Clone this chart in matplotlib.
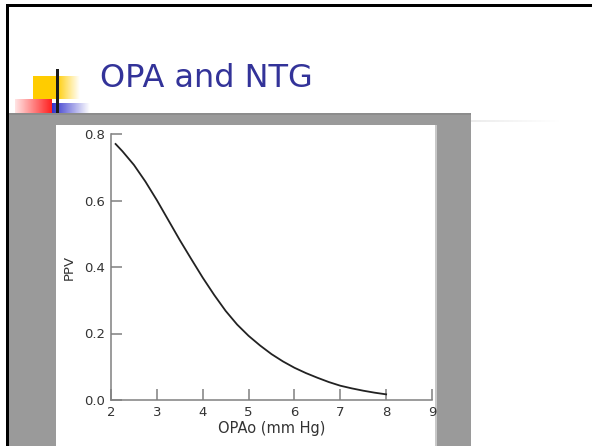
import numpy as np
import matplotlib
matplotlib.use("Agg")
import matplotlib.pyplot as plt
from matplotlib.patches import Rectangle

# ---- data ----
opa_x = [2.1, 2.25, 2.5, 2.75, 3.0, 3.25, 3.5, 3.75, 4.0, 4.25, 4.5, 4.75,
         5.0, 5.25, 5.5, 5.75, 6.0, 6.25, 6.5, 6.75, 7.0, 7.25, 7.5, 7.75, 8.0]
ppv_y = [0.77, 0.748, 0.707, 0.657, 0.601, 0.541, 0.481, 0.424, 0.368, 0.316,
         0.268, 0.227, 0.193, 0.164, 0.138, 0.116, 0.097, 0.081, 0.067, 0.054,
         0.043, 0.035, 0.028, 0.022, 0.017]
x_ticks = [2, 3, 4, 5, 6, 7, 8, 9]
y_ticks = [0.0, 0.2, 0.4, 0.6, 0.8]
y_ticklabels = ["0.0", "0.2", "0.4", "0.6", "0.8"]
title_text = "OPA and NTG"
x_label = "OPAo (mm Hg)"
y_label = "PPV"

W, H = 592, 446
fig = plt.figure(figsize=(W / 100, H / 100), dpi=100)
fig.patch.set_facecolor("white")

# background axes in pixel coords
bg = fig.add_axes([0, 0, 1, 1])
bg.set_xlim(0, W)
bg.set_ylim(H, 0)
bg.axis("off")

def rect(x0, y0, x1, y1, color, z=1):
    bg.add_patch(Rectangle((x0, y0), x1 - x0, y1 - y0, facecolor=color,
                           edgecolor="none", zorder=z))

def grad(x0, y0, x1, y1, c_left, c_right, z=2):
    c_left = np.array(matplotlib.colors.to_rgb(c_left))
    c_right = np.array(matplotlib.colors.to_rgb(c_right))
    t = np.linspace(0, 1, 64)[None, :, None]
    img = c_left * (1 - t) + c_right * t
    bg.imshow(img, extent=(x0, x1, y1, y0), aspect="auto", zorder=z,
              interpolation="bilinear")

# slide border (top and left)
rect(6, 4, W, 7, "black", 5)
rect(6, 4, 9, H, "black", 5)

# gray box and white panel
rect(9, 113, 471, H, "#9a9a9a", 1)
rect(9, 113, 471, 115, "#8c8c8c", 1)
rect(56, 125, 436, H, "white", 2)
rect(435, 125, 437, H, "#c8c8c8", 2)
# faint line to right
grad(471, 120, 560, 122, "#ececec", "#ffffff", 1)

# decorations
rect(33, 76, 56, 99, "#ffcc00", 2)
grad(56, 76, 80, 99, "#ffcc00", "#ffffff", 2)
grad(15, 99, 52, 113, "#ffe4e4", "#ff2020", 3)
grad(52, 103, 90, 113, "#3333cc", "#ffffff", 3)
rect(56, 69, 59, 113, "#1a1a1a", 4)

bg.set_xlim(0, W)
bg.set_ylim(H, 0)

# title
bg.text(100, 87, title_text, fontsize=23, color="#333399",
        family="DejaVu Sans", va="baseline", ha="left", zorder=6)

# plot axes: x 111..432 px, y 134..400 px
x0, x1, yt, yb = 111, 432, 134, 400
ax = fig.add_axes([x0 / W, 1 - yb / H, (x1 - x0) / W, (yb - yt) / H])
ax.set_facecolor("none")
ax.plot(opa_x, ppv_y, color="#222222", lw=1.3)
ax.set_xlim(2, 9)
ax.set_ylim(0, 0.8)
for s in ["top", "right"]:
    ax.spines[s].set_visible(False)
for s in ["left", "bottom"]:
    ax.spines[s].set_color("#808080")
    ax.spines[s].set_linewidth(1.1)
ax.set_xticks(x_ticks)
ax.set_yticks(y_ticks)
ax.set_yticklabels(y_ticklabels)
ax.tick_params(direction="in", length=8, width=1.1, color="#808080",
               labelsize=9.5, labelcolor="#333333", pad=4)
ax.set_xlabel(x_label, fontsize=10.5, color="#333333", labelpad=2)
ax.set_ylabel(y_label, fontsize=9.5, color="#333333", labelpad=6)

fig.savefig("out.png", dpi=100, facecolor="white")
